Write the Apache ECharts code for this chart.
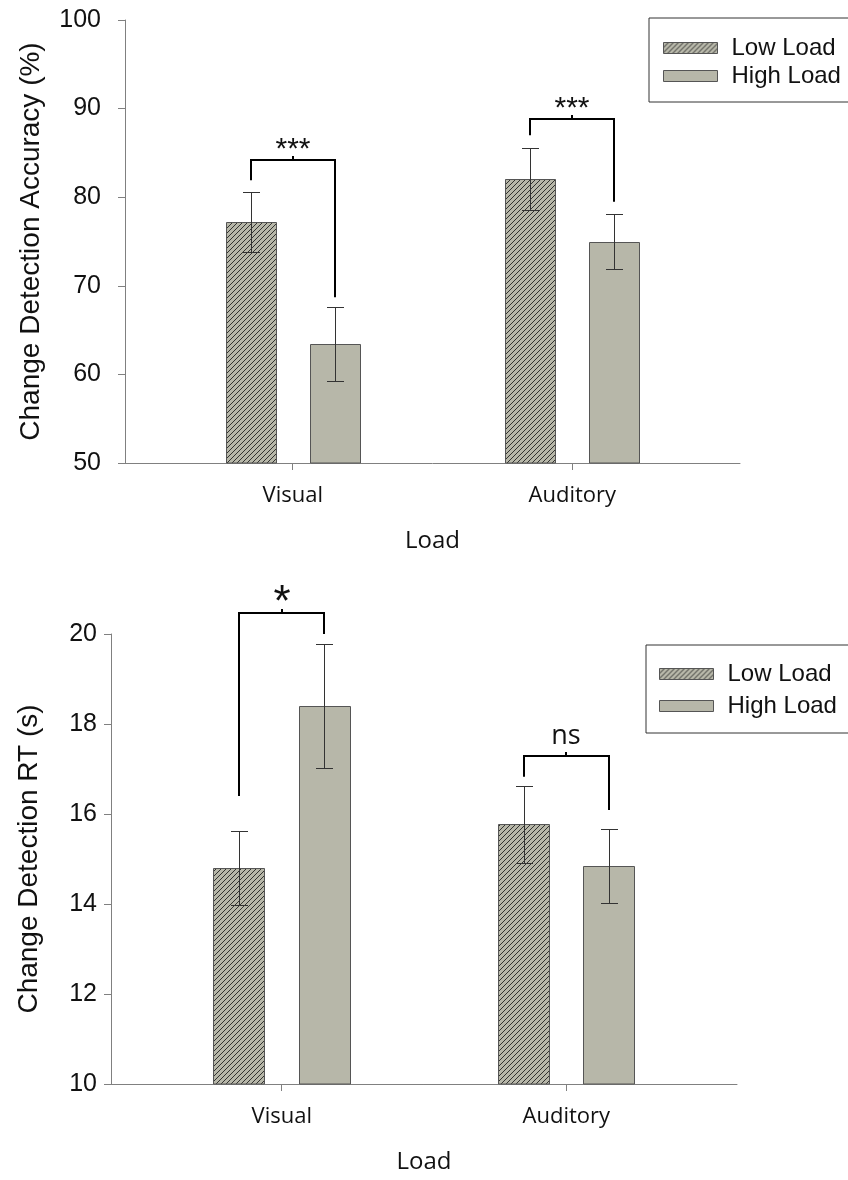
<!DOCTYPE html>
<html><head><meta charset="utf-8">
<script src="https://cdn.jsdelivr.net/npm/echarts@6/dist/echarts.min.js"></script>
<style>html,body{margin:0;padding:0;background:#fff}#c{width:848px;height:1180px}</style>
</head><body><div id="c"></div>
<script>
// ---------- data ----------
const categories = ['Visual', 'Auditory'];
const seriesNames = ['Low Load', 'High Load'];

// Top panel: change detection accuracy (%)
const accLow = [77.2, 82.0];
const accLowErr = [3.4, 3.5];
const accHigh = [63.4, 75.0];
const accHighErr = [4.2, 3.15];
const accTicks = [50, 60, 70, 80, 90, 100];
// significance brackets: [category, bracket top, left leg end, right leg end]
const accBrackets = [[0, 84.2, 81.9, 68.7], [1, 88.8, 87.0, 79.5]];
const accBracketLabels = ['***', '***'];

// Bottom panel: change detection RT (s)
const rtLow = [14.8, 15.77];
const rtLowErr = [0.83, 0.85];
const rtHigh = [18.4, 14.84];
const rtHighErr = [1.38, 0.82];
const rtTicks = [10, 12, 14, 16, 18, 20];
const rtBrackets = [[0, 20.47, 16.4, 20.0], [1, 17.29, 16.83, 16.09]];
const rtBracketLabels = ['*', 'ns'];

// ---------- styling ----------
const FILL = '#b7b7a9';
const BAR_W = 0.18;      // in category units
const OFFSET = 0.15;     // bar centre offset from category centre
const SANS = '"Liberation Sans", Arial, sans-serif';
const LABEL_FONT = '"Open Sans", sans-serif';

function hatchCanvas() {
  const s = 5;
  const c = document.createElement('canvas');
  c.width = s; c.height = s;
  const g = c.getContext('2d');
  g.fillStyle = FILL; g.fillRect(0, 0, s, s);
  g.strokeStyle = '#222'; g.lineWidth = 0.9;
  g.beginPath();
  g.moveTo(-1, s + 1); g.lineTo(s + 1, -1);
  g.moveTo(-1, 1); g.lineTo(1, -1);
  g.moveTo(s - 1, s + 1); g.lineTo(s + 1, s - 1);
  g.stroke();
  return c;
}
const HATCH = { image: hatchCanvas(), repeat: 'repeat' };

function crisp(v) { return Math.round(v) + 0.5; }

function barSeries(name, idx, means, errs, offset, fill) {
  return {
    type: 'custom', name: name, xAxisIndex: idx, yAxisIndex: idx, z: 3,
    itemStyle: { color: fill, borderColor: '#555', borderWidth: 1 },
    data: means.map((m, i) => [i, m, errs[i]]),
    renderItem: function (params, api) {
      const cat = api.value(0), v = api.value(1), e = api.value(2);
      const cs = params.coordSys;
      const baseY = cs.y + cs.height;
      const p = api.coord([cat + offset, v]);
      const w = api.size([BAR_W, 0])[0];
      const hi = api.coord([cat + offset, v + e]);
      const lo = api.coord([cat + offset, v - e]);
      const cx = crisp(p[0]);
      const cap = 8.5;
      const x0 = Math.round(p[0] - w / 2) + 0.5;
      const y0 = Math.round(p[1]) + 0.5;
      return {
        type: 'group', children: [
          { type: 'rect', shape: { x: x0, y: y0, width: Math.round(w), height: baseY - y0 },
            style: { fill: fill, stroke: '#555', lineWidth: 1 } },
          { type: 'line', shape: { x1: cx, y1: crisp(hi[1]), x2: cx, y2: crisp(lo[1]) },
            style: { stroke: '#333', lineWidth: 1 } },
          { type: 'line', shape: { x1: cx - cap, y1: crisp(hi[1]), x2: cx + cap, y2: crisp(hi[1]) },
            style: { stroke: '#333', lineWidth: 1 } },
          { type: 'line', shape: { x1: cx - cap, y1: crisp(lo[1]), x2: cx + cap, y2: crisp(lo[1]) },
            style: { stroke: '#333', lineWidth: 1 } }
        ]
      };
    }
  };
}

function bracketSeries(idx, brackets, labels, fonts) {
  return {
    type: 'custom', xAxisIndex: idx, yAxisIndex: idx, z: 4, silent: true,
    data: brackets,
    renderItem: function (params, api) {
      const cat = api.value(0);
      const top = api.coord([cat, api.value(1)]);
      const l = api.coord([cat - OFFSET, api.value(2)]);
      const r = api.coord([cat + OFFSET, api.value(3)]);
      const ty = Math.round(top[1]);
      const mx = Math.round(top[0]);
      const lab = labels[params.dataIndex];
      return {
        type: 'group', children: [
          { type: 'polyline', shape: { points: [[Math.round(l[0]), l[1]], [Math.round(l[0]), ty], [Math.round(r[0]), ty], [Math.round(r[0]), r[1]]] },
            style: { stroke: '#000', lineWidth: 2, fill: null } },
          { type: 'line', shape: { x1: mx, y1: ty, x2: mx, y2: ty - 4 },
            style: { stroke: '#000', lineWidth: 2 } },
          { type: 'text', x: mx, y: ty + fonts[lab].dy,
            style: { text: lab, font: fonts[lab].font, fill: '#111', align: 'center', verticalAlign: 'middle', textAlign: 'center', textVerticalAlign: 'middle' } }
        ]
      };
    }
  };
}

const legendData = [
  { name: seriesNames[0], icon: 'rect', itemStyle: { color: HATCH, borderColor: '#555', borderWidth: 1 } },
  { name: seriesNames[1], icon: 'rect', itemStyle: { color: FILL, borderColor: '#555', borderWidth: 1 } }
];

function legend(left, top, pad, gap) {
  return {
    left: left, top: top, orient: 'vertical', padding: pad,
    itemWidth: 54, itemHeight: 11, itemGap: gap,
    borderColor: '#333', borderWidth: 1, selectedMode: false,
    textStyle: { fontFamily: SANS, fontSize: 24, color: '#111', lineHeight: 20, padding: [0, 0, 0, 9] },
    data: legendData
  };
}

function xAxis(idx) {
  return {
    gridIndex: idx, type: 'value', min: -0.6, max: 1.6,
    name: 'Load', nameLocation: 'middle', nameGap: 66,
    nameTextStyle: { fontFamily: LABEL_FONT, fontSize: 24, color: '#111' },
    axisLine: { show: true, onZero: false, lineStyle: { color: '#808080', width: 1 } },
    axisTick: { show: true, customValues: [0, 1], length: 7, lineStyle: { color: '#808080' } },
    axisLabel: { show: true, customValues: [0, 1], formatter: v => categories[Math.round(v)] || '',
      margin: 22, fontSize: 22, color: '#111', fontFamily: LABEL_FONT },
    splitLine: { show: false }
  };
}

function yAxis(idx, ticks, name, gap, margin) {
  return {
    gridIndex: idx, type: 'value', min: ticks[0], max: ticks[ticks.length - 1],
    interval: ticks[1] - ticks[0],
    name: name, nameLocation: 'middle', nameGap: gap,
    nameTextStyle: { fontFamily: SANS, fontSize: 28, color: '#111' },
    axisLine: { show: true, onZero: false, lineStyle: { color: '#808080', width: 1 } },
    axisTick: { show: true, length: 7, lineStyle: { color: '#808080' } },
    axisLabel: { margin: margin, fontSize: 25, color: '#111', fontFamily: SANS },
    splitLine: { show: false }
  };
}

const fontsTop = { '***': { font: '30px "Liberation Sans", Arial, sans-serif', dy: -10 } };
const fontsBottom = {
  '*': { font: '44px "Liberation Sans", Arial, sans-serif', dy: -9 },
  'ns': { font: '27px "Open Sans", sans-serif', dy: -20 }
};

const chart = echarts.init(document.getElementById('c'), null, { renderer: 'canvas' });
chart.setOption({
  animation: false,
  backgroundColor: '#fff',
  grid: [
    { left: 125, top: 20, width: 615, height: 443 },
    { left: 111, top: 634, width: 626, height: 450 }
  ],
  legend: [legend(649, 18, [18, 60, 14, 14], 4), legend(646, 645, [17, 60, 15, 13], 8)],
  xAxis: [xAxis(0), xAxis(1)],
  yAxis: [
    yAxis(0, accTicks, 'Change Detection Accuracy (%)', 80, 24),
    yAxis(1, rtTicks, 'Change Detection RT (s)', 68, 14)
  ],
  series: [
    barSeries(seriesNames[0], 0, accLow, accLowErr, -OFFSET, HATCH),
    barSeries(seriesNames[1], 0, accHigh, accHighErr, OFFSET, FILL),
    bracketSeries(0, accBrackets, accBracketLabels, fontsTop),
    barSeries(seriesNames[0], 1, rtLow, rtLowErr, -OFFSET, HATCH),
    barSeries(seriesNames[1], 1, rtHigh, rtHighErr, OFFSET, FILL),
    bracketSeries(1, rtBrackets, rtBracketLabels, fontsBottom)
  ]
});
</script>
</body></html>
